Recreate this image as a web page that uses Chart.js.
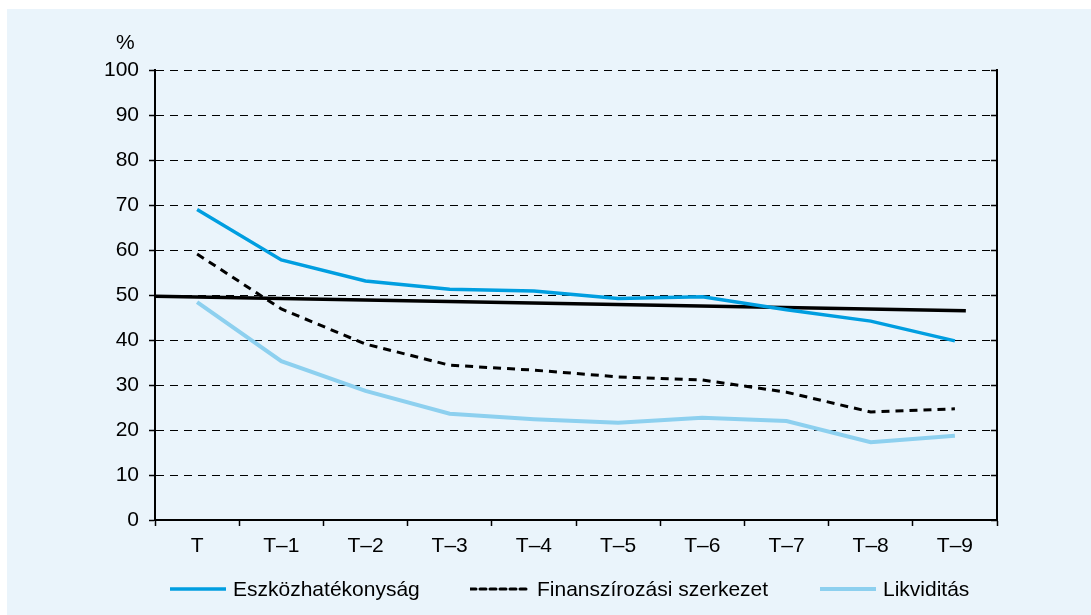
<!DOCTYPE html>
<html lang="hu">
<head>
    <meta charset="UTF-8">
    <title>Eszközhatékonyság, finanszírozási szerkezet, likviditás</title>
    <script src="https://cdn.jsdelivr.net/npm/chart.js"></script>
    <style>
        body { margin: 0; background: #fff; font-family: "Liberation Sans", Arial, sans-serif; }
        .wrap { position: relative; width: 1091px; height: 615px; }
        .unit { position: absolute; left: 116px; top: 30px; font-size: 21px; line-height: 24px; color: #000; }
        .legend { position: absolute; top: 576px; left: 0; width: 1091px; height: 26px; font-size: 21px; color: #000; }
        .item { position: absolute; top: 0; display: flex; align-items: center; height: 26px; }
        .item svg { margin-right: 7px; }
    </style>
</head>
<body>
    <div class="wrap">
        <canvas id="chart" width="1091" height="615"></canvas>
        <div class="unit">%</div>
        <div class="legend" id="legend"></div>
    </div>

    <script>
        // kategóriák
        const labels = ['T', 'T–1', 'T–2', 'T–3', 'T–4', 'T–5', 'T–6', 'T–7', 'T–8', 'T–9'];

        // sorozatok (%)
        const eszkoz = [69, 57.8, 53.1, 51.3, 50.9, 49.2, 49.6, 46.7, 44.2, 39.8];
        const finansz = [59.1, 46.9, 39.1, 34.4, 33.3, 31.8, 31.1, 28.4, 24.0, 24.7];
        const likvid = [48.4, 35.3, 28.7, 23.6, 22.4, 21.6, 22.7, 22.0, 17.3, 18.7];

        // fekete vonal (50% körüli határ)
        const hatarX = [0, 9.63];
        const hatarY = [49.7, 46.5];

        const yTicks = [0, 10, 20, 30, 40, 50, 60, 70, 80, 90, 100];

        const BLUE = '#009ee0';
        const LIGHT = '#8dd0ef';
        const BG = '#eaf4fb';
        const FONT = { family: '"Liberation Sans", Arial, sans-serif', size: 21 };

        // háttér + jobb oldali keret
        const framePlugin = {
            id: 'frame',
            beforeDraw(chart) {
                const ctx = chart.ctx;
                ctx.save();
                ctx.fillStyle = '#fff';
                ctx.fillRect(0, 0, chart.width, chart.height);
                ctx.fillStyle = BG;
                ctx.fillRect(7, 9, chart.width - 7, chart.height - 9);
                ctx.restore();
            },
            afterDraw(chart) {
                const ctx = chart.ctx;
                const a = chart.chartArea;
                const y = chart.scales.y;
                ctx.save();
                ctx.strokeStyle = '#000';
                ctx.lineWidth = 2;
                ctx.beginPath();
                ctx.moveTo(a.right, a.top - 1);
                ctx.lineTo(a.right, a.bottom);
                ctx.stroke();
                ctx.lineWidth = 1.5;
                for (const v of yTicks) {
                    const py = Math.round(y.getPixelForValue(v)) + 0.5;
                    ctx.beginPath();
                    ctx.moveTo(a.right - 6, py);
                    ctx.lineTo(a.right, py);
                    ctx.stroke();
                }
                ctx.restore();
            }
        };

        const ctx = document.getElementById('chart').getContext('2d');
        new Chart(ctx, {
            type: 'line',
            data: {
                labels: labels,
                datasets: [
                    {
                        label: 'Eszközhatékonyság',
                        data: eszkoz,
                        borderColor: BLUE,
                        borderWidth: 3.5,
                        pointRadius: 0,
                        tension: 0
                    },
                    {
                        label: 'Finanszírozási szerkezet',
                        data: finansz,
                        borderColor: '#000',
                        borderWidth: 3,
                        borderDash: [8, 6],
                        pointRadius: 0,
                        tension: 0
                    },
                    {
                        label: 'Likviditás',
                        data: likvid,
                        borderColor: LIGHT,
                        borderWidth: 4,
                        pointRadius: 0,
                        tension: 0
                    },
                    {
                        label: 'határ',
                        xAxisID: 'x2',
                        data: hatarX.map((x, i) => ({ x: x, y: hatarY[i] })),
                        borderColor: '#000',
                        borderWidth: 3.5,
                        pointRadius: 0
                    }
                ]
            },
            options: {
                responsive: false,
                animation: false,
                layout: { padding: { left: 0, top: 70, right: 94, bottom: 50 } },
                plugins: {
                    legend: { display: false },
                    tooltip: { enabled: false }
                },
                scales: {
                    x: {
                        offset: true,
                        grid: {
                            offset: true,
                            drawOnChartArea: false,
                            tickLength: 6,
                            tickColor: '#000',
                            tickWidth: 1.5
                        },
                        border: { color: '#000', width: 2 },
                        ticks: { color: '#000', font: FONT, padding: 8, maxRotation: 0 },
                        afterFit(scale) { scale.height = 45; }
                    },
                    x2: {
                        type: 'linear',
                        display: false,
                        min: 0,
                        max: 10
                    },
                    y: {
                        min: 0,
                        max: 100,
                        ticks: { stepSize: 10, color: '#000', font: FONT, padding: 10 },
                        grid: {
                            color: '#000',
                            lineWidth: 1,
                            tickLength: 6,
                            tickColor: '#000',
                            tickWidth: 1.5
                        },
                        border: { color: '#000', width: 2, dash: [8, 6] },
                        afterFit(scale) { scale.width = 155; }
                    }
                }
            },
            plugins: [framePlugin]
        });

        // jelmagyarázat
        const legendItems = [
            { text: 'Eszközhatékonyság', color: BLUE, dash: '', w: 3.5, left: 170, len: 56 },
            { text: 'Finanszírozási szerkezet', color: '#000', dash: '6 4', w: 3, left: 470, len: 60 },
            { text: 'Likviditás', color: LIGHT, dash: '', w: 4, left: 820, len: 56 }
        ];
        const legend = document.getElementById('legend');
        for (const it of legendItems) {
            const div = document.createElement('div');
            div.className = 'item';
            div.style.left = it.left + 'px';
            div.innerHTML =
                '<svg width="' + it.len + '" height="10"><line x1="0" y1="5" x2="' + it.len + '" y2="5" stroke="' +
                it.color + '" stroke-width="' + it.w + '" stroke-linecap="round"' +
                (it.dash ? ' stroke-dasharray="' + it.dash + '" stroke-linecap="butt"' : '') + '/></svg>' +
                '<span>' + it.text + '</span>';
            legend.appendChild(div);
        }
    </script>
</body>
</html>
